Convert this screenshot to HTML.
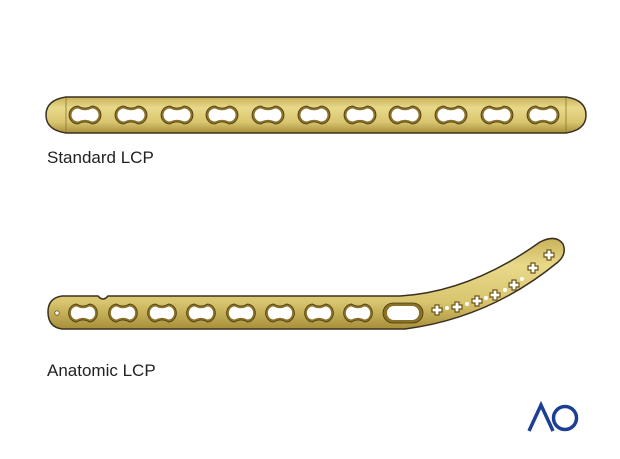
<!DOCTYPE html>
<html><head><meta charset="utf-8"><style>
html,body{margin:0;padding:0;background:#fff;width:620px;height:459px;overflow:hidden}
svg{display:block}
text{font-family:"Liberation Sans","DejaVu Sans",sans-serif}
</style></head><body>
<svg width="620" height="459" viewBox="0 0 620 459">
<defs>
<linearGradient id="gold" x1="0" y1="0" x2="0" y2="1">
<stop offset="0" stop-color="#c9b259"/><stop offset="0.3" stop-color="#e8d98a"/><stop offset="0.7" stop-color="#d9c56f"/><stop offset="1" stop-color="#a88f3a"/>
</linearGradient>
<g id="holeshape">
<path d="M-7,-9 A9,9 0 0 0 -7,9 Q0,5 7,9 A9,9 0 0 0 7,-9 Q0,-5 -7,-9Z" fill="#8a7128" stroke="#4a3a10" stroke-width="0.8"/>
<path d="M-7,-6.5 A6.5,6.5 0 0 0 -7,6.5 Q0,3 7,6.5 A6.5,6.5 0 0 0 7,-6.5 Q0,-3 -7,-6.5Z" fill="#fff"/>
</g>
<g id="hole"><use href="#holeshape"/></g>
<g id="hole2"><use href="#holeshape" transform="scale(0.9,1)"/></g>
<g id="cross"><path d="M-2,-5 h4 v3 h3 v4 h-3 v3 h-4 v-3 h-3 v-4 h3z" fill="#fff" stroke="#6b5518" stroke-width="1.2"/></g>
</defs>

<g>
<path d="M66,97 L566,97 Q586,100 586,115 Q586,130 566,133 L66,133 Q46,130 46,115 Q46,100 66,97Z" fill="url(#gold)" stroke="#3a3020" stroke-width="1.5"/>
<line x1="66" y1="98" x2="66" y2="132" stroke="#8a7535" stroke-width="0.8"/>
<line x1="566" y1="98" x2="566" y2="132" stroke="#8a7535" stroke-width="0.8"/>
<use href="#hole" x="85" y="115"/><use href="#hole" x="131" y="115"/><use href="#hole" x="177" y="115"/>
<use href="#hole" x="222" y="115"/><use href="#hole" x="268" y="115"/><use href="#hole" x="314" y="115"/>
<use href="#hole" x="360" y="115"/><use href="#hole" x="405" y="115"/><use href="#hole" x="451" y="115"/>
<use href="#hole" x="497" y="115"/><use href="#hole" x="543" y="115"/>
</g>
<text x="47" y="163" font-size="17" fill="#222">Standard LCP</text>

<g>
<path d="M62,296 L98,296 Q103,302 108,296 L400,296 Q470,292 540,242 Q556,234 563,244 Q567,254 558,262 Q490,318 405,329 L62,329 Q48,327 48,312 Q48,298 62,296Z" fill="url(#gold)" stroke="#3a3020" stroke-width="1.5"/>
<circle cx="57" cy="313" r="2.2" fill="#fff" stroke="#6b5518" stroke-width="0.8"/>
<use href="#hole2" x="83" y="313"/><use href="#hole2" x="123" y="313"/><use href="#hole2" x="162" y="313"/>
<use href="#hole2" x="201" y="313"/><use href="#hole2" x="241" y="313"/><use href="#hole2" x="280" y="313"/>
<use href="#hole2" x="319" y="313"/><use href="#hole2" x="358" y="313"/>
<rect x="383" y="303" width="40" height="20" rx="10" fill="#8a7128" stroke="#4a3a10" stroke-width="0.8"/>
<rect x="387" y="306" width="32" height="14" rx="7" fill="#fff"/>
<use href="#cross" x="437" y="310"/><circle cx="447" cy="308" r="2" fill="#fff"/>
<use href="#cross" x="457" y="307"/><circle cx="467" cy="304" r="2" fill="#fff"/>
<use href="#cross" x="477" y="301"/><circle cx="486" cy="298" r="2" fill="#fff"/>
<use href="#cross" x="495" y="295"/><circle cx="505" cy="290" r="2" fill="#fff"/>
<use href="#cross" x="514" y="285"/><circle cx="522" cy="279" r="2" fill="#fff"/>
<use href="#cross" x="533" y="268"/><use href="#cross" x="549" y="255"/>
</g>
<text x="47" y="376" font-size="17" fill="#222">Anatomic LCP</text>

<g fill="none" stroke="#1c3f94" stroke-width="3.5">
<path d="M529,431 L541,405 L553,431"/>
<circle cx="565" cy="418" r="11.5"/>
</g>
</svg>
</body></html>
